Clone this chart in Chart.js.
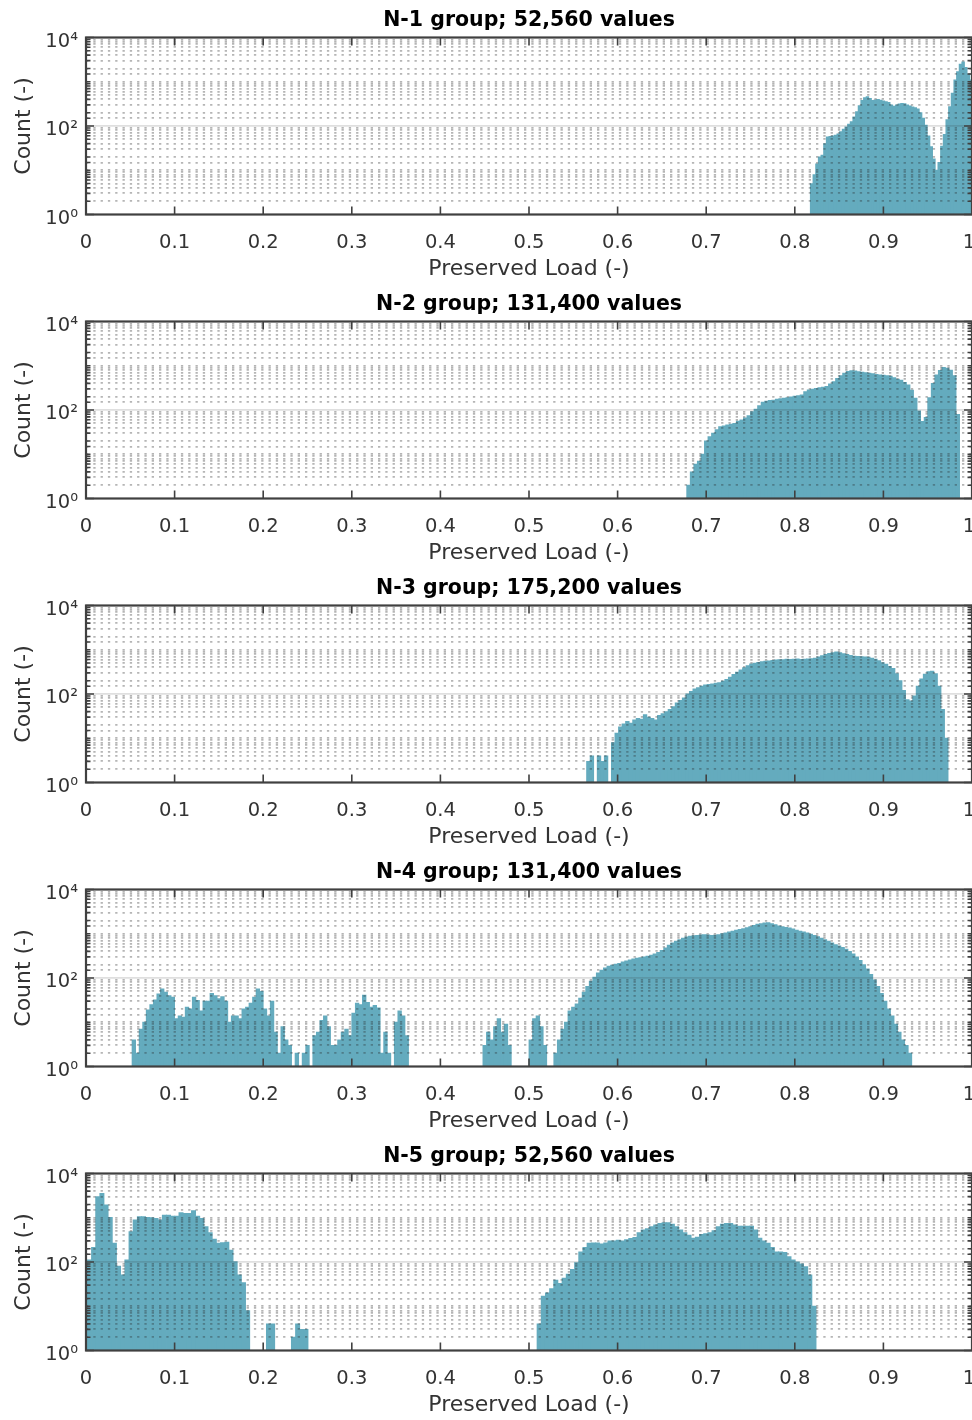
<!DOCTYPE html>
<html>
<head>
<meta charset="utf-8">
<script src="https://cdn.jsdelivr.net/npm/chart.js@4.4.0/dist/chart.umd.min.js"></script>
<style>
  body { margin: 0; background: #fff; width: 972px; height: 1420px; overflow: hidden; }
  .panel { position: absolute; left: 0; width: 972px; height: 284px; }
</style>
</head>
<body>
<div class="panel" style="top:0px"><canvas id="p1" width="972" height="284"></canvas></div>
<div class="panel" style="top:284px"><canvas id="p2" width="972" height="284"></canvas></div>
<div class="panel" style="top:568px"><canvas id="p3" width="972" height="284"></canvas></div>
<div class="panel" style="top:852px"><canvas id="p4" width="972" height="284"></canvas></div>
<div class="panel" style="top:1136px"><canvas id="p5" width="972" height="284"></canvas></div>
<script>
const groupTitles = [
  'N-1 group; 52,560 values',
  'N-2 group; 131,400 values',
  'N-3 group; 175,200 values',
  'N-4 group; 131,400 values',
  'N-5 group; 52,560 values'
];
const xLabel = 'Preserved Load (-)';
const yLabel = 'Count (-)';
const yTickLabels = { 1: '10⁰', 100: '10²', 10000: '10⁴' };

// histogram counts, one array per group (first bin edge + bin width)
const n1Start = 0.8175, n1Width = 0.003;
const n1Counts = [
  5, 8, 14, 20, 22, 40, 57, 58, 60, 62,
  66, 75, 85, 95, 110, 125, 160, 210, 290, 380,
  440, 460, 420, 380, 390, 400, 385, 370, 355, 340,
  300, 280, 300, 315, 325, 320, 300, 285, 270, 260,
  245, 200, 150, 105, 60, 34, 18, 10, 15, 35,
  65, 140, 275, 550, 1100, 1700, 2500, 2800, 2100, 1500,
  1100
];

const n2Start = 0.678, n2Width = 0.004;
const n2Counts = [
  2, 4, 6, 7, 10, 20, 25, 30, 36, 42,
  44, 46, 48, 50, 56, 60, 66, 75, 92, 105,
  125, 150, 158, 165, 168, 175, 180, 185, 190, 198,
  205, 210, 220, 260, 285, 295, 308, 318, 330, 340,
  390, 440, 520, 600, 680, 750, 770, 760, 740, 720,
  700, 680, 660, 640, 620, 610, 600, 585, 540, 500,
  470, 420, 370, 280, 185, 95, 55, 68, 190, 400,
  620, 780, 920, 880, 800, 600, 80
];

const n3Start = 0.565, n3Width = 0.004;
const n3Counts = [
  3, 4, 0, 4, 3, 4, 0, 8, 13, 18,
  21, 24, 22, 26, 28, 27, 34, 30, 28, 26,
  33, 36, 40, 45, 52, 63, 72, 82, 100, 115,
  130, 140, 150, 160, 165, 170, 176, 180, 195, 213,
  240, 278, 310, 350, 395, 440, 480, 500, 520, 535,
  550, 560, 575, 590, 600, 600, 610, 605, 610, 620,
  605, 610, 620, 630, 650, 690, 740, 780, 830, 860,
  890, 860, 820, 780, 750, 720, 710, 700, 690, 680,
  650, 610, 570, 510, 470, 420, 380, 290, 200, 120,
  75, 70, 90, 150, 220, 280, 320, 330, 290, 150,
  45, 10
];

const n4Start = 0.052, n4Width = 0.004;
const n4Counts = [
  4, 2, 7, 10, 19, 25, 32, 44, 57, 48,
  40, 37, 12, 14, 13, 22, 20, 37, 31, 18,
  30, 30, 45, 40, 34, 38, 30, 10, 14, 14,
  12, 20, 22, 27, 37, 57, 50, 20, 14, 30,
  6, 2, 8, 4, 3, 0, 2, 0, 2, 3,
  0, 5, 6, 11, 14, 8, 3, 3, 4, 6,
  7, 5, 16, 27, 25, 41, 28, 22, 24, 21,
  2, 6, 2, 0, 10, 18, 14, 5, 0, 0,
  0, 0, 0, 0, 0, 0, 0, 0, 0, 0,
  0, 0, 0, 0, 0, 0, 0, 0, 0, 3,
  6, 4, 8, 12, 6, 9, 3, 0, 0, 0,
  0, 0, 4, 12, 14, 8, 3, 0, 0, 2,
  4, 7, 10, 18, 22, 26, 35, 48, 65, 85,
  105, 130, 150, 170, 185, 195, 205, 215, 230, 245,
  255, 270, 280, 290, 300, 310, 330, 350, 380, 420,
  480, 550, 620, 680, 740, 800, 850, 880, 910, 920,
  940, 950, 940, 920, 930, 960, 1000, 1050, 1100, 1150,
  1200, 1250, 1300, 1380, 1450, 1550, 1650, 1700, 1750, 1780,
  1700, 1600, 1500, 1450, 1400, 1350, 1280, 1200, 1150, 1100,
  1050, 980, 920, 860, 800, 740, 680, 620, 570, 530,
  490, 450, 400, 350, 300, 250, 200, 160, 120, 90,
  65, 45, 30, 20, 14, 9, 6, 4, 3, 2
];

const n5Start = 0.0015, n5Width = 0.0047;
const n5Counts = [
  111, 215, 3000, 3570, 1940, 1023, 265, 81, 51, 111,
  484, 890, 1057, 1057, 1020, 1000, 970, 890, 1150, 1150,
  1090, 1090, 1300, 1250, 1250, 1445, 1090, 970, 630, 460,
  330, 265, 272, 280, 186, 102, 51, 34, 8, 0,
  0, 0, 0, 4, 4, 0, 0, 0, 0, 2,
  4, 3, 3, 0, 0, 0, 0, 0, 0, 0,
  0, 0, 0, 0, 0, 0, 0, 0, 0, 0,
  0, 0, 0, 0, 0, 0, 0, 0, 0, 0,
  0, 0, 0, 0, 0, 0, 0, 0, 0, 0,
  0, 0, 0, 0, 0, 0, 0, 0, 0, 0,
  0, 0, 0, 0, 0, 0, 0, 0, 4, 17,
  20, 25, 39, 33, 43, 53, 68, 97, 170, 215,
  265, 270, 270, 255, 270, 300, 300, 310, 300, 320,
  340, 360, 460, 530, 570, 630, 690, 745, 770, 770,
  720, 630, 530, 460, 405, 345, 365, 420, 440, 460,
  510, 630, 720, 745, 745, 690, 650, 650, 650, 650,
  530, 345, 300, 265, 215, 170, 170, 165, 132, 111,
  100, 90, 78, 51, 10
];

const groups = [
  [n1Start, n1Width, n1Counts],
  [n2Start, n2Width, n2Counts],
  [n3Start, n3Width, n3Counts],
  [n4Start, n4Width, n4Counts],
  [n5Start, n5Width, n5Counts]
];

Chart.defaults.font.family = '"DejaVu Sans", sans-serif';
Chart.defaults.color = '#333';

const axisColor = '#404040';
const barColor = '#64abbe';

function isDecade(v, list) {
  return list.some(d => Math.abs(v - d) < 1e-6);
}

// MATLAB style box with inward ticks on all four sides
const boxTicks = {
  id: 'boxTicks',
  afterDraw(chart) {
    const { ctx, chartArea: a, scales } = chart;
    ctx.save();
    ctx.strokeStyle = axisColor;
    ctx.lineWidth = 1.6;
    ctx.beginPath();
    scales.x.ticks.forEach(t => {
      const px = scales.x.getPixelForValue(t.value);
      ctx.moveTo(px, a.bottom); ctx.lineTo(px, a.bottom - 8);
      ctx.moveTo(px, a.top); ctx.lineTo(px, a.top + 8);
    });
    scales.y.ticks.forEach(t => {
      const py = scales.y.getPixelForValue(t.value);
      const len = isDecade(t.value, [1, 100, 10000]) ? 8 : 4.5;
      ctx.moveTo(a.left, py); ctx.lineTo(a.left + len, py);
      ctx.moveTo(a.right, py); ctx.lineTo(a.right - len, py);
    });
    ctx.stroke();
    ctx.lineWidth = 2.2;
    ctx.strokeRect(a.left, a.top, a.right - a.left, a.bottom - a.top);
    ctx.restore();
  }
};

function makePanel(id, title, start, width, counts) {
  const points = counts.map((c, i) => ({ x: start + (i + 0.5) * width, y: c }));
  return new Chart(document.getElementById(id), {
    type: 'bar',
    data: {
      datasets: [{
        data: points,
        backgroundColor: barColor,
        borderWidth: 0,
        barPercentage: 1,
        categoryPercentage: 1,
        inflateAmount: 0.4
      }]
    },
    options: {
      responsive: false,
      devicePixelRatio: 1,
      animation: false,
      layout: { padding: 0 },
      plugins: { legend: { display: false }, tooltip: { enabled: false } },
      scales: {
        x: {
          type: 'linear',
          position: 'bottom',
          min: 0,
          max: 1,
          offset: false,
          grid: { display: false, drawTicks: false, offset: false },
          border: { display: false },
          ticks: {
            stepSize: 0.1, padding: 16.5, maxRotation: 0, autoSkip: false, color: '#333', font: { size: 19.5 },
            // last label sits on the clipped right edge, pad it so it stays readable
            callback: v => (Math.abs(v - 1) < 1e-9 ? '1 ' : String(Math.round(v * 10) / 10))
          },
          title: { display: true, text: xLabel, color: '#333', font: { size: 22 }, padding: { top: 0, bottom: 2 } },
          afterFit: s => { s.height = 69.5; s.paddingLeft = 0; s.paddingRight = 0; }
        },
        xTop: {
          type: 'linear',
          position: 'top',
          min: 0,
          max: 1,
          offset: false,
          grid: { display: false, drawTicks: false },
          border: { display: false },
          ticks: { display: false },
          title: { display: true, text: title, color: '#000', font: { size: 20.5, weight: 'bold' }, padding: { top: 8, bottom: 0 } },
          afterFit: s => { s.height = 37.5; s.paddingLeft = 0; s.paddingRight = 0; }
        },
        y: {
          type: 'logarithmic',
          position: 'left',
          min: 1,
          max: 10000,
          grid: {
            z: 1,
            drawTicks: false,
            lineWidth: 1.8,
            color: c => isDecade(c.tick.value, [1, 100, 10000]) ? 'rgba(0,0,0,0)' : 'rgba(38,38,38,0.34)'
          },
          border: { display: false, dash: [2.3, 5] },
          ticks: {
            autoSkip: false,
            padding: 8,
            labelOffset: 4,
            color: '#333',
            font: { size: 19.5 },
            callback: v => yTickLabels[Math.round(v)] && isDecade(v, [1, 100, 10000]) ? yTickLabels[Math.round(v)] : ''
          },
          title: { display: true, text: yLabel, color: '#333', font: { size: 22 }, padding: { top: 11, bottom: 0 } },
          afterFit: s => { s.width = 86; s.paddingTop = 0; s.paddingBottom = 0; }
        },
        yMajor: {
          type: 'logarithmic',
          position: 'left',
          min: 1,
          max: 10000,
          grid: {
            z: 1,
            drawTicks: false,
            lineWidth: 1.8,
            color: c => isDecade(c.tick.value, [100]) ? 'rgba(38,38,38,0.15)' : 'rgba(0,0,0,0)'
          },
          border: { display: false },
          ticks: { display: false, autoSkip: false },
          afterFit: s => { s.width = 0; s.paddingTop = 0; s.paddingBottom = 0; }
        }
      }
    },
    plugins: [boxTicks]
  });
}

groups.forEach((g, i) => makePanel('p' + (i + 1), groupTitles[i], g[0], g[1], g[2]));
</script>
</body>
</html>
